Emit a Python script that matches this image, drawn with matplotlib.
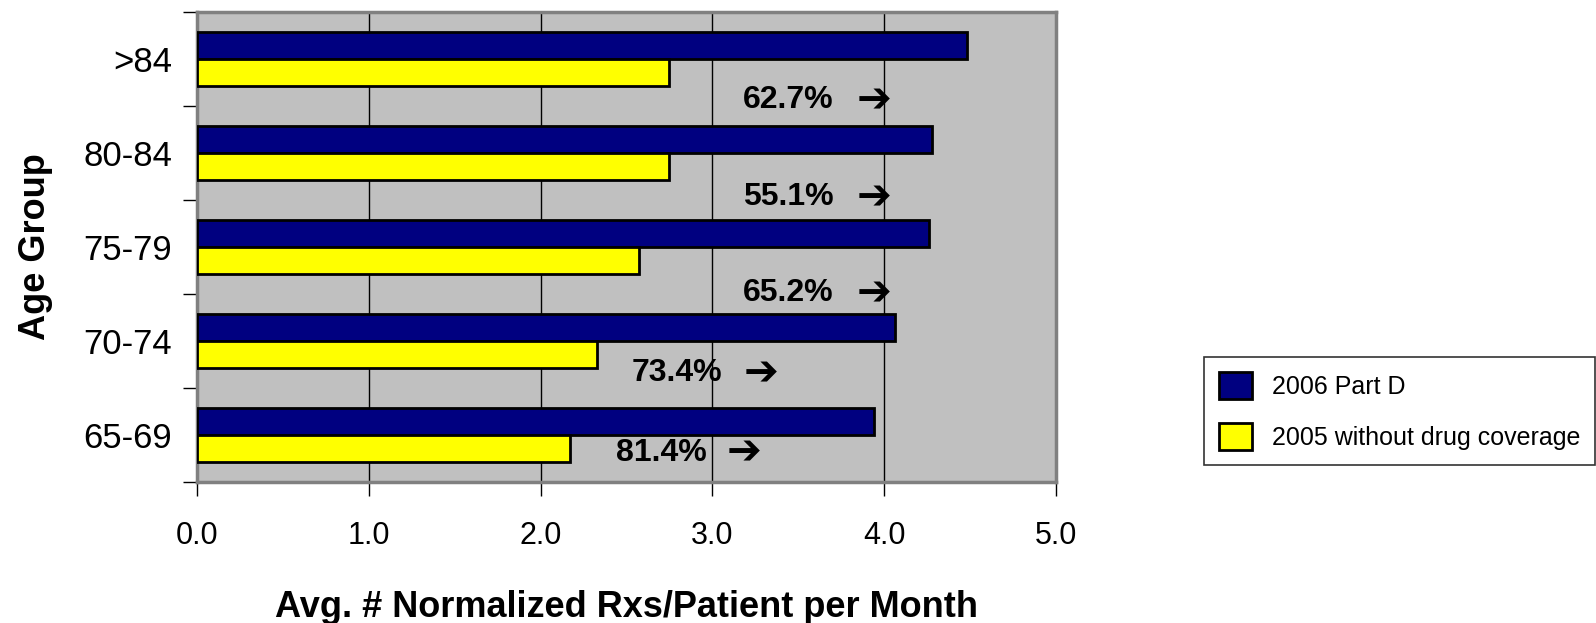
import matplotlib
matplotlib.use("Agg")
import matplotlib.pyplot as plt
import numpy as np

plt.rcParams['font.family'] = ['Liberation Sans', 'DejaVu Sans']

groups = ["65-69", "70-74", "75-79", "80-84", ">84"]
part_d_2006 = [3.94, 4.06, 4.26, 4.28, 4.48]
no_cov_2005 = [2.17, 2.33, 2.57, 2.75, 2.75]
pct_labels = ["81.4%", "73.4%", "65.2%", "55.1%", "62.7%"]
# label anchor (x of text start, y in category units), arrow x
pct_x = [2.44, 2.53, 3.18, 3.18, 3.18]
pct_y = [-0.19, 0.66, 1.51, 2.53, 3.56]
arrow_x = [3.08, 3.18, 3.84, 3.84, 3.84]
xticks = [0.0, 1.0, 2.0, 3.0, 4.0, 5.0]

W, H = 1596, 623
fig = plt.figure(figsize=(W / 100, H / 100), dpi=100)
ax = fig.add_axes([197 / W, 1 - 482 / H, (1056 - 197) / W, 470 / H])
ax.set_facecolor('#C0C0C0')

y = np.arange(len(groups))
bh = 0.29
ax.barh(y + bh / 2, part_d_2006, height=bh, color='#000080', edgecolor='black', linewidth=2,
        label='2006 Part D', zorder=3)
ax.barh(y - bh / 2, no_cov_2005, height=bh, color='#FFFF00', edgecolor='black', linewidth=2,
        label='2005 without drug coverage', zorder=3)

for lab, tx, ty, axx in zip(pct_labels, pct_x, pct_y, arrow_x):
    ax.text(tx, ty, lab, fontsize=23, fontweight='bold', ha='left', va='center', zorder=4)
    ax.text(axx, ty, "\u2794", fontsize=30, fontweight='bold', ha='left', va='center',
            family=['DejaVu Sans'], zorder=4)

ax.set_xlim(0, 5)
ax.set_ylim(-0.5, len(groups) - 0.5)
ax.set_xticks(xticks)
ax.set_xticklabels([f"{v:.1f}" for v in xticks], fontsize=22)
ax.set_yticks(y)
ax.set_yticklabels(groups, fontsize=25)
ax.set_yticks(np.arange(len(groups) + 1) - 0.5, minor=True)
ax.tick_params(axis='y', which='major', length=0, pad=18)
ax.tick_params(axis='y', which='minor', length=10, width=1, direction='out')
ax.tick_params(axis='x', which='major', length=10, width=1, direction='out', pad=18)
ax.xaxis.grid(True, color='black', linewidth=1, zorder=0)
ax.set_axisbelow(True)

for s in ['top', 'right', 'left', 'bottom']:
    ax.spines[s].set_color('#808080')
    ax.spines[s].set_linewidth(2.5)

ax.set_xlabel("Avg. # Normalized Rxs/Patient per Month", fontsize=26, fontweight='bold', labelpad=28)
ax.set_ylabel("Age Group", fontsize=26, fontweight='bold', labelpad=22)

handles, labels = ax.get_legend_handles_labels()
leg = fig.legend(handles, labels, loc='upper left', bbox_to_anchor=(1204 / W, 1 - 357 / H),
                 fontsize=18, frameon=True, fancybox=False, edgecolor='black',
                 handlelength=1.3, handleheight=1.3, borderaxespad=0, labelspacing=0.95,
                 borderpad=0.6, handletextpad=0.8)
leg.get_frame().set_linewidth(1.2)

fig.savefig("out.png", dpi=100)
